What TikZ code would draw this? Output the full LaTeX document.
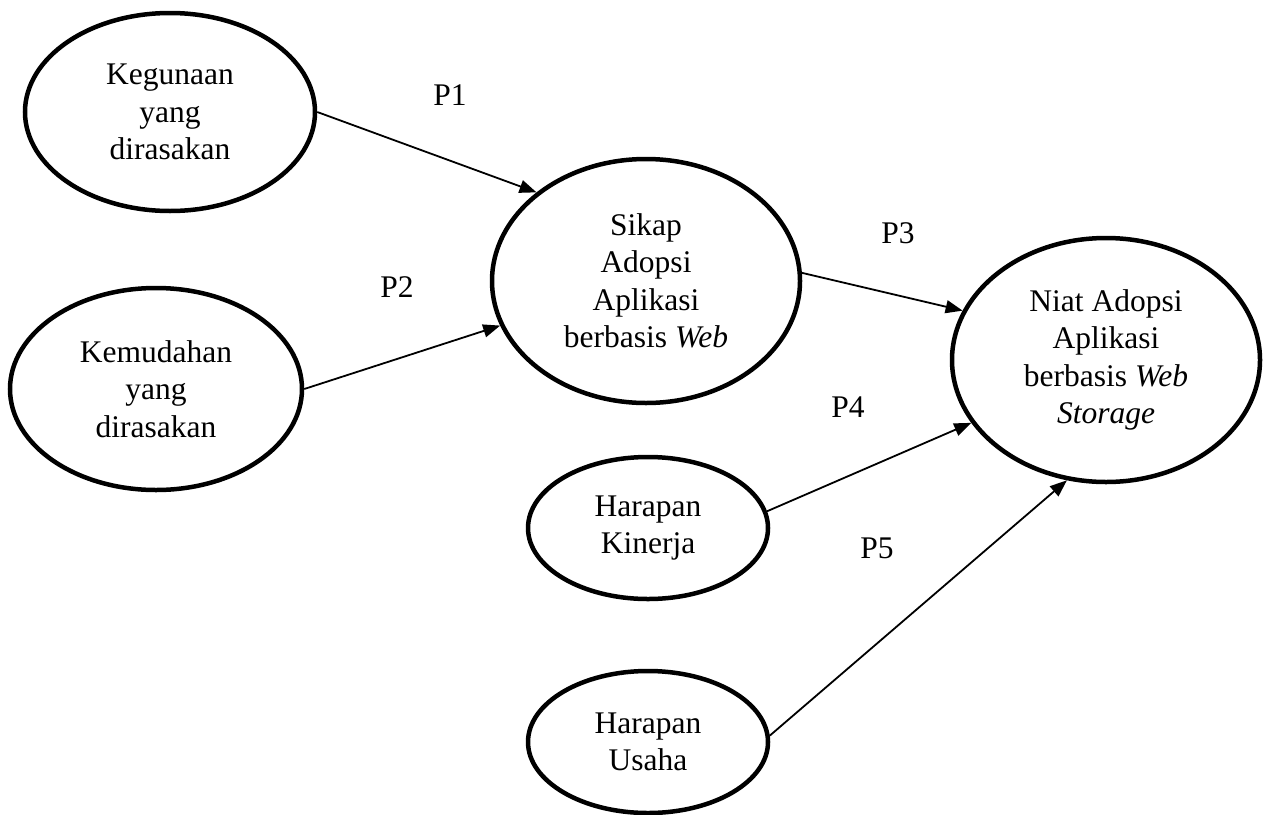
\documentclass[tikz,border=0pt]{standalone}
\usepackage{fontspec}
\setmainfont{Liberation Serif}
\usetikzlibrary{arrows.meta,shapes.geometric}
\begin{document}
\begin{tikzpicture}[x=1pt,y=-1pt,
  construct/.style={draw, line width=4.5pt, ellipse, inner sep=0pt, align=center,
    font=\fontsize{31.5}{37.5}\selectfont},
  bigc/.style={construct, minimum width=308pt, minimum height=244pt},
  smallc/.style={construct, minimum width=240pt, minimum height=142pt},
  link/.style={line width=1.8pt, -{Triangle[length=17pt,width=13pt]}},
  plabel/.style={font=\fontsize{31.5}{37.5}\selectfont, inner sep=0pt}]
\useasboundingbox (0,0) rectangle (1263,814);

% constructs
\node[construct, minimum width=290pt, minimum height=198pt] (keg) at (170,112) {Kegunaan\\yang\\dirasakan};
\node[construct, minimum width=292pt, minimum height=202pt] (kem) at (156,389) {Kemudahan\\yang\\dirasakan};
\node[bigc] (sikap) at (646,281) {Sikap\\Adopsi\\Aplikasi\\berbasis \textit{Web}};
\node[bigc] (niat) at (1106,360) {Niat Adopsi\\Aplikasi\\berbasis \textit{Web}\\\textit{Storage}};
\node[smallc] (kin) at (648,528) {Harapan\\Kinerja};
\node[smallc] (usaha) at (648,742) {Harapan\\Usaha};

% paths
\draw[link] (keg.east) -- (sikap.141);
\draw[link] (kem.east) -- (sikap.197.6);
\draw[link] (sikap.3) -- (niat.161.3);
\draw[link] (kin.8) -- (niat.205.7);
\draw[link] (usaha.3) -- (niat.252.2);

% path labels
\node[plabel] (p1) at (450,95) {P1};
\node[plabel] (p2) at (397,287) {P2};
\node[plabel] (p3) at (898,233) {P3};
\node[plabel] (p4) at (848,407) {P4};
\node[plabel] (p5) at (877,548) {P5};
\end{tikzpicture}
\end{document}
